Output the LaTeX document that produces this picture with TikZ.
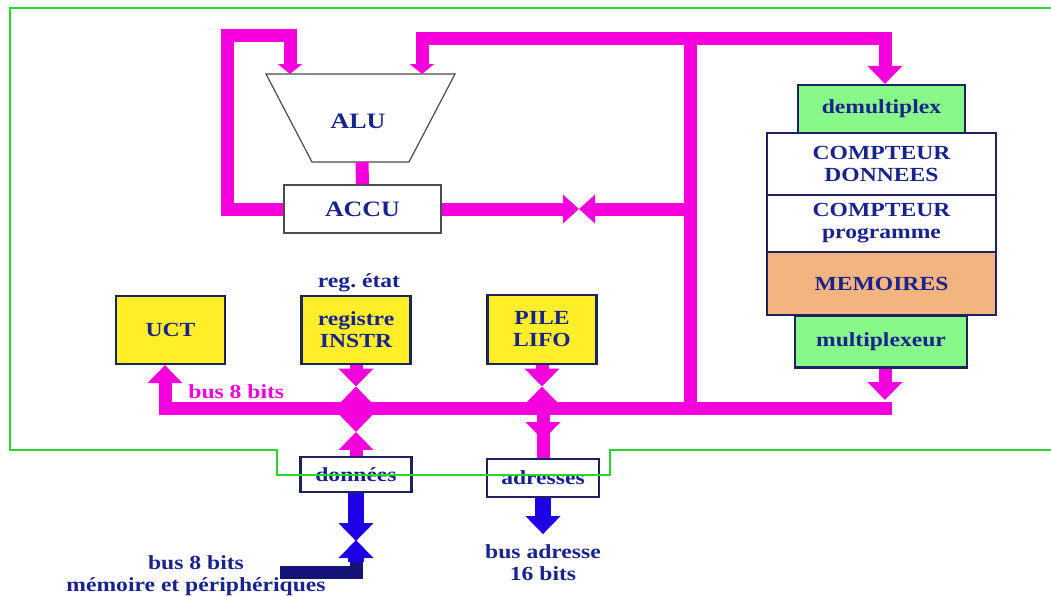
\documentclass[tikz,border=0pt]{standalone}
\usepackage{fontspec}
\setmainfont{Liberation Serif}[FakeStretch=1.18]
\usepackage{tikz}
\usetikzlibrary{arrows.meta,calc}
\frenchspacing
\definecolor{buspink}{RGB}{245,0,220}
\definecolor{txtnavy}{RGB}{25,35,140}
\definecolor{edgenavy}{RGB}{30,35,95}
\definecolor{regyellow}{RGB}{255,238,40}
\definecolor{muxgreen}{RGB}{136,248,136}
\definecolor{memorange}{RGB}{244,180,128}
\definecolor{framegreen}{RGB}{40,215,40}
\definecolor{extblue}{RGB}{30,0,230}
\definecolor{extnavy}{RGB}{20,20,120}
\tikzset{
  blk/.style={draw=edgenavy,line width=1.1pt,text=txtnavy,align=center,inner sep=0pt,
    font=\bfseries\fontsize{10}{11}\selectfont},
  lbl/.style={text=txtnavy,align=center,inner sep=0pt,font=\bfseries\fontsize{10}{11}\selectfont},
  bus/.style={buspink,line width=6.5pt},
  extbus/.style={extblue,line width=8pt},
  aluin/.style={-{Triangle[width=12pt,length=5pt]}},
}

\begin{document}
\begin{tikzpicture}[x=0.5pt,y=-0.5pt,>={Triangle[width=17pt,length=9pt]},line join=miter]
\useasboundingbox (0,0) rectangle (1051,596);
\draw[gray!60!black,line width=0.6pt,fill=white] (266,74) -- (455,74) -- (409,162) -- (312,162) -- cycle;
\node[lbl,font=\bfseries\fontsize{11}{12}\selectfont] (alu) at (358,121) {ALU};
\coordinate (aluinA) at (290,74); \coordinate (aluinB) at (422,74); \coordinate (aluout) at (362,162);
\node[blk,draw=gray!60!black,line width=0.7pt,fill=white,font=\bfseries\fontsize{11}{12}\selectfont,
  minimum width=78.5pt,minimum height=24pt] (accu) at (362.5,209) {ACCU};
\node[blk,fill=muxgreen,minimum width=83.5pt,minimum height=24pt] (demux) at (881.5,109) {demultiplex};
\node[blk,fill=white,minimum width=114.5pt,minimum height=31pt] (cptd) at (881.5,164) {COMPTEUR\\DONNEES};
\node[blk,fill=white,minimum width=114.5pt,minimum height=28.5pt] (cptp) at (881.5,223.5) {COMPTEUR\\programme};
\node[blk,fill=memorange,minimum width=114.5pt,minimum height=31.5pt] (mem) at (881.5,283.5) {MEMOIRES};
\node[blk,fill=muxgreen,minimum width=86pt,minimum height=26pt] (mux) at (881,341.5) {multiplexeur};
\node[blk,fill=regyellow,minimum width=54.5pt,minimum height=34pt] (uct) at (170.5,330) {UCT};
\node[blk,fill=regyellow,minimum width=54.5pt,minimum height=34pt] (reg) at (356,330) {registre\\INSTR};
\node[blk,fill=regyellow,minimum width=54.5pt,minimum height=34.5pt] (pile) at (542,329.5) {PILE\\LIFO};
\node[lbl] (etat) at (359,283) {reg. état};
\node[blk,fill=white,minimum width=55.5pt,minimum height=17.5pt] (don) at (356,474.5) {données};
\node[blk,fill=white,minimum width=56pt,minimum height=19pt] (adr) at (543,478) {adresses};
\coordinate (busL) at (165,408); \coordinate (busR) at (885,408); \coordinate (hub) at (690,38);
\coordinate (meet) at (579,209);
\draw[bus,line cap=rect] (busL) -- (busR);
\draw[bus,->] (busL) -- (busL |- uct.south);
\draw[bus,->] (mux.south -| busR) -- ($(busR)+(0,-8)$);
\draw[bus] (busR -| hub) -- (hub);
\draw[bus,aluin] (hub) -| (aluinB);
\draw[bus,->] (hub) -| (demux.north -| busR);
\draw[bus,aluin] (accu.west) -| (227,35) -| (aluinA);
\draw[bus] (aluout) -- (accu.north);
\draw[bus,-{Triangle[width=14pt,length=8pt]}] (accu.east) -- (meet);
\draw[bus,-{Triangle[width=14pt,length=8pt]}] (accu.east -| hub) -- (meet);
\coordinate (m1) at ($(reg.south)!0.5!(reg.south |- busL)$);
\draw[bus,->] (reg.south) -- (m1); \draw[bus,->] (reg.south |- busL) -- (m1);
\coordinate (m2) at ($(don.north)!0.5!(don.north |- busL)$);
\draw[bus,->] (don.north |- busL) -- (m2); \draw[bus,->] (don.north) -- (m2);
\coordinate (m3) at ($(pile.south)!0.5!(pile.south |- busL)$);
\draw[bus,->] (pile.south) -- (m3); \draw[bus,->] (pile.south |- busL) -- (m3);
\draw[bus] (adr.north |- busL) -- (adr.north);
\draw[bus,->] (adr.north |- busL) -- ++(0,32);
\draw[extbus,->] (don.south) -- ++(0,48);
\coordinate (periph) at (280,572);
\draw[extnavy,line width=6.5pt] (periph) -| (356,556);
\draw[extbus,->] (356,562) -- (356,540);
\draw[extbus,->] (adr.south) -- ++(0,36);
\node[lbl,text=buspink,anchor=west] (bus8) at (188,392) {bus 8 bits};
\node[lbl] (busadr) at (543,563) {bus adresse\\16 bits};
\node[lbl] (busmem) at (196,576) {bus 8 bits\\mémoire et périphériques};
\draw[framegreen,line width=1pt] (1051,8) -- (10,8) -- (10,450) -- (277,450) -- (277,475)
  -- (610,475) -- (610,450) -- (1051,450);
\end{tikzpicture}
\end{document}
